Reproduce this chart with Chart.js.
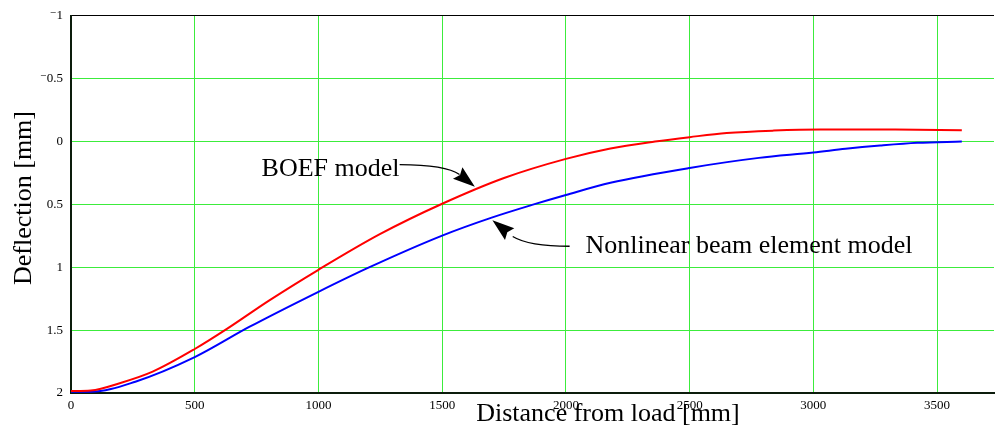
<!DOCTYPE html>
<html>
<head>
<meta charset="utf-8">
<script src="https://cdn.jsdelivr.net/npm/chart.js@4.4.0/dist/chart.umd.min.js"></script>
<style>
    html, body { margin: 0; padding: 0; background: #fff; }
    #wrap { width: 995px; height: 434px; position: relative; }
</style>
</head>
<body>
<div id="wrap"><canvas id="deflChart"></canvas></div>
<script>
// Deflection curves (distance in mm, deflection in mm)
const boefX = [0, 80, 200, 330, 500, 630, 800, 1000, 1250, 1500, 1750, 2000, 2180, 2360, 2500, 2650, 2840, 3030, 3330, 3600];
const boefY = [1.985, 1.98, 1.92, 1.83, 1.65, 1.49, 1.265, 1.02, 0.735, 0.495, 0.29, 0.138, 0.055, 0.0, -0.035, -0.068, -0.087, -0.095, -0.095, -0.09];

const nlX = [0, 80, 260, 500, 720, 1000, 1200, 1500, 1700, 1870, 2000, 2180, 2500, 2780, 3000, 3130, 3270, 3420, 3600];
const nlY = [1.99, 1.99, 1.91, 1.715, 1.475, 1.195, 1.005, 0.748, 0.605, 0.5, 0.425, 0.328, 0.21, 0.13, 0.088, 0.058, 0.032, 0.01, 0.0];

const xTicks = [0, 500, 1000, 1500, 2000, 2500, 3000, 3500];
const yTicks = [-1, -0.5, 0, 0.5, 1, 1.5, 2];

const SERIF = "'Liberation Serif', 'DejaVu Serif', serif";
const GRID = '#3cec3c';
const AXIS = '#0c1c0c';

function toPoints(xs, ys) {
    return xs.map((x, i) => ({ x: x, y: ys[i] }));
}

// Labels and arrows, anchored in data units
const notes = [
    { text: 'BOEF model', at: [770, 0.272], start: [1328, 0.184], ctrl: [1515, 0.186], base: [1570, 0.262], tip: [1632, 0.36] },
    { text: 'Nonlinear beam element model', at: [2079, 0.884], start: [2015, 0.833], ctrl: [1850, 0.833], base: [1785, 0.755], tip: [1703, 0.627] }
];

const notesPlugin = {
    id: 'notes',
    afterDraw(chart) {
        const { ctx, scales: { x, y } } = chart;
        const px = p => [x.getPixelForValue(p[0]), y.getPixelForValue(p[1])];
        ctx.save();
        ctx.fillStyle = '#000';
        ctx.strokeStyle = '#000';
        ctx.font = '26px ' + SERIF;
        ctx.textBaseline = 'alphabetic';
        ctx.textAlign = 'left';
        notes.forEach(n => {
            const t = px(n.at);
            ctx.fillText(n.text, t[0], t[1]);
            const s = px(n.start), c = px(n.ctrl), b = px(n.base), tp = px(n.tip);
            ctx.lineWidth = 1.3;
            ctx.beginPath();
            ctx.moveTo(s[0], s[1]);
            ctx.quadraticCurveTo(c[0], c[1], b[0], b[1]);
            ctx.stroke();
            // arrow head
            const dx = tp[0] - b[0], dy = tp[1] - b[1];
            const len = Math.hypot(dx, dy);
            const ux = dx / len, uy = dy / len;
            const hw = 7.5;
            const bx = tp[0] - ux * 22, by = tp[1] - uy * 22;
            ctx.beginPath();
            ctx.moveTo(tp[0], tp[1]);
            ctx.lineTo(bx - uy * hw, by + ux * hw);
            ctx.lineTo(bx + ux * 3, by + uy * 3);
            ctx.lineTo(bx + uy * hw, by - ux * hw);
            ctx.closePath();
            ctx.fill();
        });

        // axis titles
        ctx.font = '26px ' + SERIF;
        ctx.textAlign = 'center';
        ctx.fillText('Distance from load [mm]', x.getPixelForValue(2170), 421);
        ctx.translate(31, 198);
        ctx.rotate(-Math.PI / 2);
        ctx.fillText('Deflection [mm]', 0, 0);
        ctx.restore();
    }
};

const ctx = document.getElementById('deflChart').getContext('2d');

new Chart(ctx, {
    type: 'line',
    data: {
        datasets: [{
            label: 'BOEF model',
            data: toPoints(boefX, boefY),
            borderColor: '#ff0000',
            borderWidth: 2,
            pointRadius: 0,
            cubicInterpolationMode: 'monotone',
            fill: false
        }, {
            label: 'Nonlinear beam element model',
            data: toPoints(nlX, nlY),
            borderColor: '#0000ff',
            borderWidth: 2,
            pointRadius: 0,
            cubicInterpolationMode: 'monotone',
            fill: false
        }]
    },
    options: {
        responsive: true,
        maintainAspectRatio: false,
        animation: false,
        layout: { padding: { top: 14, right: 1, left: 0, bottom: 0 } },
        plugins: {
            legend: { display: false },
            tooltip: { enabled: false }
        },
        scales: {
            x: {
                type: 'linear',
                min: 0,
                max: 3730,
                afterBuildTicks: s => { s.ticks = xTicks.map(v => ({ value: v })); },
                afterFit: s => { s.height = 41; },
                ticks: {
                    color: '#000',
                    font: { family: SERIF, size: 13 },
                    padding: 5,
                    maxRotation: 0,
                    autoSkip: false,
                    callback: v => String(v)
                },
                grid: {
                    color: c => (c.tick && c.tick.value === 0) ? AXIS : GRID,
                    lineWidth: 1,
                    drawTicks: false
                },
                border: { display: true, color: AXIS, width: 2 }
            },
            y: {
                type: 'linear',
                reverse: true,
                min: -1,
                max: 2,
                afterBuildTicks: s => { s.ticks = yTicks.map(v => ({ value: v })); },
                afterFit: s => { s.width = 71; },
                ticks: {
                    color: '#000',
                    font: { family: SERIF, size: 13 },
                    padding: 8,
                    autoSkip: false,
                    callback: v => v < 0 ? '\u207B' + Math.abs(v) : String(v)
                },
                grid: {
                    color: c => (c.tick && c.tick.value === -1) ? '#000' : GRID,
                    lineWidth: 1,
                    drawTicks: false
                },
                border: { display: true, color: AXIS, width: 2 }
            }
        }
    },
    plugins: [notesPlugin]
});
</script>
</body>
</html>
